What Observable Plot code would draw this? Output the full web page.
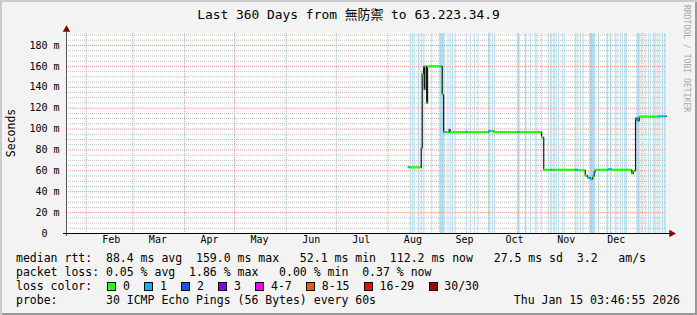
<!DOCTYPE html>
<html><head><meta charset="utf-8">
<script src="https://cdn.jsdelivr.net/npm/d3@7"></script>
<script src="https://cdn.jsdelivr.net/npm/@observablehq/plot@0.6"></script>
<style>
html,body{margin:0;padding:0;background:#f3f3f3;}
#wrap{position:relative;width:697px;height:315px;background:#f3f3f3;overflow:hidden;font-family:"DejaVu Sans Mono",monospace;color:#000;
  box-shadow: inset 2px 2px 0 #cbcbcb, inset -2px -2px 0 #999999;}
#chart{position:absolute;left:0;top:0;}
#title{position:absolute;left:0;top:6px;width:697px;text-align:center;font-size:12.9px;line-height:18px;font-family:"DejaVu Sans Mono","Noto Sans CJK TC",monospace;}
.leg{position:absolute;left:16px;font-size:11.5px;line-height:14px;white-space:pre;}
#ylab{position:absolute;left:10.5px;top:132.7px;font-size:11.5px;white-space:pre;transform:translate(-50%,-50%) rotate(-90deg);}
#wm{position:absolute;left:682px;top:5px;font-size:8.1px;color:#a8a8a8;writing-mode:vertical-rl;white-space:pre;line-height:9px;}
#date{position:absolute;right:17px;top:293px;font-size:11.5px;line-height:14px;white-space:pre;}
.box{display:inline-block;width:7px;height:7px;border:1px solid #000;vertical-align:-1px;margin-left:1.3px;margin-right:6.6px;}
.lab{margin-right:13.2px;}
</style></head>
<body>
<div id="wrap">
  <div id="chart"></div>
  <div id="title"></div>
  <div id="ylab"></div>
  <div id="wm"></div>
  <div class="leg" id="l1" style="top:251px"></div>
  <div class="leg" id="l2" style="top:265px"></div>
  <div class="leg" id="l3" style="top:279px"></div>
  <div class="leg" id="l4" style="top:293px"></div>
  <div id="date"></div>
</div>
<script>
// ---- text ----
const titleText = "Last 360 Days from 無防禦 to 63.223.34.9";
const yAxisTitle = "Seconds";
const watermark = "RRDTOOL / TOBI OETIKER";
const legendLine1 = "median rtt:  88.4 ms avg  159.0 ms max   52.1 ms min  112.2 ms now   27.5 ms sd  3.2   am/s";
const legendLine2 = "packet loss: 0.05 % avg  1.86 % max   0.00 % min  0.37 % now";
const legendLine3Label = "loss color:  ";
const legendLine4 = "probe:       30 ICMP Echo Pings (56 Bytes) every 60s";
const dateText = "Thu Jan 15 03:46:55 2026";

// ---- axes ----
const startTime = "2025-01-20T03:46:55Z";
const endTime = "2026-01-15T03:46:55Z";
const yMax = 191.5;
const monthStarts = ["2025-02-01","2025-03-01","2025-04-01","2025-05-01","2025-06-01","2025-07-01","2025-08-01","2025-09-01","2025-10-01","2025-11-01","2025-12-01","2026-01-01"];
const monthLabelDates = ["2025-02-16","2025-03-16","2025-04-16","2025-05-16","2025-06-16","2025-07-16","2025-08-16","2025-09-16","2025-10-16","2025-11-16","2025-12-16"];
const monthLabels = ["Feb","Mar","Apr","May","Jun","Jul","Aug","Sep","Oct","Nov","Dec"];
const yTicks = [0,20,40,60,80,100,120,140,160,180];
const yTickLabels = ["0","20 m","40 m","60 m","80 m","100 m","120 m","140 m","160 m","180 m"];
const yMinorStep = 5;

// ---- loss colours ----
const lossColors = ["#26ff00","#00b8ff","#0059ff","#7e00ff","#ff00ff","#ff5500","#ff0000","#a00000"];
const lossLabels = ["0","1","2","3","4-7","8-15","16-29","30/30"];

// ---- median rtt (ms) : step starts, value, loss class ----
const medTimes = [
 "2025-08-13T05:00Z","2025-08-14T02:00Z","2025-08-21T00:00Z","2025-08-21T14:00Z","2025-08-22T10:00Z",
 "2025-08-22T19:00Z","2025-08-23T05:00Z","2025-08-24T05:00Z","2025-08-24T19:00Z","2025-09-02T00:00Z",
 "2025-09-02T14:00Z","2025-09-03T10:00Z","2025-09-05T07:00Z","2025-09-06T19:00Z","2025-09-07T10:00Z",
 "2025-09-17T00:00Z","2025-09-17T14:00Z","2025-09-30T10:00Z","2025-10-02T00:00Z","2025-10-03T19:00Z",
 "2025-10-17T19:00Z","2025-10-19T10:00Z","2025-11-01T05:00Z","2025-11-02T12:00Z","2025-11-06T10:00Z",
 "2025-11-07T22:00Z","2025-11-21T10:00Z","2025-11-23T05:00Z","2025-11-27T10:00Z","2025-11-28T19:00Z",
 "2025-11-30T10:00Z","2025-12-01T19:00Z","2025-12-02T19:00Z","2025-12-03T10:00Z","2025-12-11T05:00Z",
 "2025-12-13T14:00Z","2025-12-25T07:00Z","2025-12-26T05:00Z","2025-12-27T14:00Z","2025-12-28T14:00Z",
 "2025-12-29T19:00Z","2026-01-10T05:00Z"];
const medValues = [
 63.5, 63.3, 82, 153, 160,
 138, 160, 125, 160, 160,
 133, 97, 97, 99.5, 97,
 97.5, 97, 98, 98, 97,
 97, 97, 92, 61, 61,
 61, 61, 60.5, 55.5, 53.5,
 52.1, 55, 59, 61, 61.5,
 61, 57.5, 60, 110.5, 108,
 112, 112.2];
const medLoss = [
 1, 0, 1, 0, 0,
 0, 0, 0, 0, 1,
 0, 1, 0, 1, 0,
 1, 0, 1, 0, 0,
 1, 0, 0, 0, 1,
 0, 1, 0, 0, 1,
 1, 0, 1, 0, 1,
 0, 0, 0, 1, 1,
 0, 1];

// ---- packet-loss background bands ----
const lossBandStarts = [
 "2025-08-14T10:00Z","2025-08-15T22:00Z","2025-08-16T19:00Z","2025-08-19T05:00Z","2025-08-21T00:00Z",
 "2025-08-22T12:00Z","2025-08-27T07:00Z","2025-09-01T10:00Z","2025-09-06T00:00Z","2025-09-07T10:00Z",
 "2025-09-08T19:00Z","2025-09-10T10:00Z","2025-09-17T00:00Z","2025-09-19T10:00Z","2025-09-21T19:00Z",
 "2025-09-24T00:00Z","2025-09-30T10:00Z","2025-10-02T14:00Z","2025-10-04T02:00Z","2025-10-17T19:00Z",
 "2025-10-22T10:00Z","2025-10-25T10:00Z","2025-10-28T10:00Z","2025-10-29T10:00Z","2025-11-05T05:00Z",
 "2025-11-06T17:00Z","2025-11-08T12:00Z","2025-11-10T00:00Z","2025-11-11T12:00Z","2025-11-13T14:00Z",
 "2025-11-14T19:00Z","2025-11-21T10:00Z","2025-11-22T22:00Z","2025-11-24T10:00Z","2025-11-26T05:00Z",
 "2025-11-30T02:00Z","2025-12-05T10:00Z","2025-12-10T10:00Z","2025-12-12T10:00Z","2025-12-15T10:00Z",
 "2025-12-16T14:00Z","2025-12-18T10:00Z","2025-12-19T14:00Z","2025-12-21T02:00Z","2025-12-22T07:00Z",
 "2025-12-28T10:00Z","2025-12-31T00:00Z","2026-01-02T10:00Z","2026-01-04T05:00Z","2026-01-05T10:00Z",
 "2026-01-07T10:00Z","2026-01-08T17:00Z","2026-01-09T22:00Z","2026-01-11T02:00Z","2026-01-12T14:00Z",
 "2026-01-14T02:00Z"];
const lossBandDays = [
 0.7, 0.6, 0.6, 0.9, 0.7,
 0.7, 0.6, 3.0, 0.6, 0.6,
 0.6, 0.6, 0.6, 0.6, 0.6,
 0.6, 0.9, 0.7, 0.6, 1.6,
 1.0, 0.6, 0.6, 0.6, 0.6,
 0.9, 0.9, 0.6, 0.6, 0.6,
 0.6, 0.9, 0.6, 0.6, 0.6,
 3.6, 0.6, 1.0, 1.0, 0.6,
 0.6, 0.6, 0.6, 0.9, 0.6,
 2.0, 0.6, 0.6, 0.6, 0.6,
 0.9, 0.6, 0.6, 0.6, 0.9,
 1.0];

// ---- build ----
const DAY = 864e5;
const start = new Date(startTime), end = new Date(endTime);
const med = medTimes.map((t, i) => ({t: new Date(t), v: medValues[i], loss: medLoss[i]}));
const segs = med.map((d, i) => ({...d, t2: i + 1 < med.length ? med[i + 1].t : end}));
const stepLine = [...med, {t: end, v: medValues[medValues.length - 1]}];
const bands = lossBandStarts.map((s, i) => {const a = new Date(s); return {s: a, e: new Date(+a + lossBandDays[i] * DAY)};});
const minorTicks = d3.range(yMinorStep, yMax, yMinorStep).filter(v => v % 20 !== 0);
const majorTicks = yTicks.filter(v => v > 0);
const yLabels = yTicks.map((v, i) => ({v, label: yTickLabels[i].includes("m") ? yTickLabels[i] : yTickLabels[i] + "\u00a0\u00a0"}));
const mLabels = monthLabelDates.map((d, i) => ({t: new Date(d), label: monthLabels[i]}));

const chart = Plot.plot({
  width: 697, height: 252,
  marginLeft: 66, marginRight: 31, marginTop: 33, marginBottom: 19,
  x: {type: "utc", domain: [start, end], axis: null},
  y: {domain: [0, yMax], axis: null},
  color: {type: "identity"},
  style: {background: "transparent", fontFamily: "DejaVu Sans Mono", fontSize: "10px", overflow: "visible"},
  marks: [
    Plot.frame({fill: "white", stroke: "none"}),
    Plot.rect(bands, {x1: "s", x2: "e", fill: "#abe2f8"}),
    Plot.ruleY(minorTicks, {stroke: "#bdbdbd", strokeDasharray: "1,1"}),
    Plot.ruleY(majorTicks, {stroke: "#f29a9a", strokeDasharray: "1,1"}),
    Plot.ruleX(monthStarts.map(d => new Date(d)), {stroke: "#f29a9a", strokeDasharray: "1,1"}),
    Plot.line(stepLine, {x: "t", y: "v", curve: "step-after", stroke: "#1a1a1a", strokeWidth: 1.2}),
    Plot.ruleY(segs, {y: "v", x1: "t", x2: "t2", stroke: d => lossColors[d.loss], strokeWidth: 2.2}),
    Plot.ruleX([start], {stroke: "#555", insetTop: -5, insetBottom: -3}),
    Plot.ruleY([0], {stroke: "#000", insetLeft: -3, insetRight: -4}),
    Plot.dot([end], {x: d => d, y: () => 0, symbol: "triangle", rotate: 90, r: 2.8, fill: "#8b0000", stroke: "none", dx: 5}),
    Plot.dot([start], {x: d => d, y: () => yMax, symbol: "triangle", r: 2.8, fill: "#8b0000", stroke: "none", dy: -4}),
    Plot.text(yLabels, {y: "v", text: "label", frameAnchor: "left", textAnchor: "end", dx: -7, fill: "#000"}),
    Plot.text(mLabels, {x: "t", text: "label", frameAnchor: "bottom", dy: 9.5, fill: "#000"})
  ]
});
document.getElementById("chart").appendChild(chart);

document.getElementById("title").textContent = titleText;
document.getElementById("ylab").textContent = yAxisTitle;
document.getElementById("wm").textContent = watermark;
document.getElementById("l1").textContent = legendLine1;
document.getElementById("l2").textContent = legendLine2;
document.getElementById("l4").textContent = legendLine4;
document.getElementById("date").textContent = dateText;
const l3 = document.getElementById("l3");
l3.appendChild(document.createTextNode(legendLine3Label));
lossLabels.forEach((lab, i) => {
  const b = document.createElement("span"); b.className = "box"; b.style.background = lossColors[i]; l3.appendChild(b);
  const t = document.createElement("span"); t.className = "lab"; t.textContent = lab; l3.appendChild(t);
});
</script>
</body></html>
